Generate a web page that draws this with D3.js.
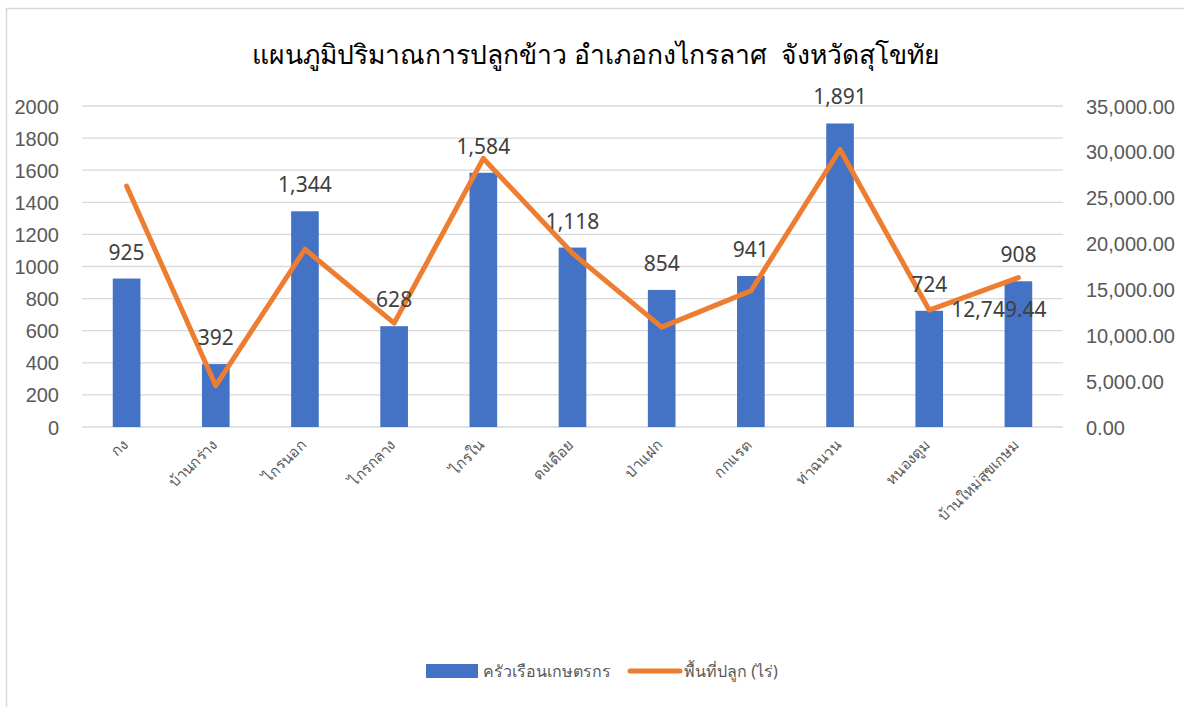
<!DOCTYPE html>
<html>
<head>
<meta charset="utf-8">
<script src="https://cdn.jsdelivr.net/npm/d3@7"></script>
<style>
  body { margin: 0; background: #fff; }
  svg { display: block; font-family: "Noto Sans", "DejaVu Sans", sans-serif; }
</style>
</head>
<body>
<div id="chart"></div>
<script>
// categories (subdistricts)
var districts = ["กง", "บ้านกร่าง", "ไกรนอก", "ไกรกลาง", "ไกรใน", "ดงเดือย", "ป่าแฝก", "กกแรต", "ท่าฉนวน", "หนองตูม", "บ้านใหม่สุขเกษม"];
// farm households (bars, left axis)
var households = [925, 392, 1344, 628, 1584, 1118, 854, 941, 1891, 724, 908];
// planted area in rai (line, right axis)
var areaRai = [26270, 4500, 19380, 11320, 29280, 18940, 10890, 14840, 30260, 12749.44, 16290];
var leftTicks = [0, 200, 400, 600, 800, 1000, 1200, 1400, 1600, 1800, 2000];
var rightTicks = [0, 5000, 10000, 15000, 20000, 25000, 30000, 35000];
var titleText = "แผนภูมิปริมาณการปลูกข้าว อำเภอกงไกรลาศ  จังหวัดสุโขทัย";
var barName = "ครัวเรือนเกษตรกร";
var lineName = "พื้นที่ปลูก (ไร่)";
var lineLabelIndex = 9; // only this point carries a label

var W = 1184, H = 707;
var plot = { left: 82, right: 1063, top: 106, bottom: 427 };

var svg = d3.select("#chart").append("svg").attr("width", W).attr("height", H);

// chart border
svg.append("rect").attr("x", 6.5).attr("y", 8.5).attr("width", W).attr("height", H)
    .attr("fill", "#fff").attr("stroke", "#d9d9d9").attr("stroke-width", 1.5);

var x = d3.scaleBand().domain(districts).range([plot.left, plot.right]);
var yL = d3.scaleLinear().domain([0, 2000]).range([plot.bottom, plot.top]);
var yR = d3.scaleLinear().domain([0, 35000]).range([plot.bottom, plot.top]);

// gridlines
svg.append("g").selectAll("line").data(leftTicks).enter().append("line")
    .attr("x1", plot.left).attr("x2", plot.right)
    .attr("y1", function (d) { return yL(d); }).attr("y2", function (d) { return yL(d); })
    .attr("stroke", "#d9d9d9").attr("stroke-width", 1.3);

// left axis
var leftAxis = svg.append("g").attr("transform", "translate(" + (plot.left - 23) + ",0)")
    .call(d3.axisLeft(yL).tickValues(leftTicks).tickSize(0).tickPadding(0).tickFormat(d3.format("d")));
leftAxis.select(".domain").remove();
leftAxis.selectAll("text").attr("fill", "#595959").style("font-size", "20px").attr("dy", "0.35em");

// right axis
var rightAxis = svg.append("g").attr("transform", "translate(" + (plot.right + 23) + ",0)")
    .call(d3.axisRight(yR).tickValues(rightTicks).tickSize(0).tickPadding(0).tickFormat(d3.format(",.2f")));
rightAxis.select(".domain").remove();
rightAxis.selectAll("text").attr("fill", "#595959").style("font-size", "20px").attr("dy", "0.35em");

// bars
var barW = x.bandwidth() * 0.31;
svg.append("g").selectAll("rect").data(households).enter().append("rect")
    .attr("x", function (d, i) { return x(districts[i]) + x.bandwidth() / 2 - barW / 2; })
    .attr("y", function (d) { return yL(d); })
    .attr("width", barW)
    .attr("height", function (d) { return yL(0) - yL(d); })
    .attr("fill", "#4472c4");

// line
var line = d3.line()
    .x(function (d, i) { return x(districts[i]) + x.bandwidth() / 2; })
    .y(function (d) { return yR(d); });
svg.append("path").datum(areaRai).attr("d", line)
    .attr("fill", "none").attr("stroke", "#ed7d31").attr("stroke-width", 5)
    .attr("stroke-linejoin", "round").attr("stroke-linecap", "round");

// bar labels
svg.append("g").selectAll("text").data(households).enter().append("text")
    .attr("x", function (d, i) { return x(districts[i]) + x.bandwidth() / 2; })
    .attr("y", function (d) { return yL(d) - 19; })
    .attr("text-anchor", "middle").attr("fill", "#404040").style("font-size", "21px")
    .text(function (d) { return d3.format(",")(d); });

// line label
svg.append("text")
    .attr("x", x(districts[lineLabelIndex]) + x.bandwidth() / 2 + 22)
    .attr("y", yR(areaRai[lineLabelIndex]))
    .attr("dy", "0.35em").attr("fill", "#404040").style("font-size", "21px")
    .text(d3.format(",.2f")(areaRai[lineLabelIndex]));

// x labels
svg.append("g").selectAll("text").data(districts).enter().append("text")
    .attr("transform", function (d) {
        return "translate(" + (x(d) + x.bandwidth() / 2 + 2) + "," + 446 + ") rotate(-45)";
    })
    .attr("text-anchor", "end").attr("fill", "#595959").style("font-size", "15px")
    .text(function (d) { return d; });

// title (keeps the double space)
svg.append("text").attr("x", 596).attr("y", 64).attr("text-anchor", "middle")
    .attr("fill", "#000").style("font-size", "26.5px").style("white-space", "pre")
    .text(titleText);

// legend
var lg = svg.append("g");
lg.append("rect").attr("x", 426).attr("y", 664).attr("width", 52).attr("height", 14).attr("fill", "#4472c4");
lg.append("text").attr("x", 483).attr("y", 671).attr("dy", "0.35em").attr("fill", "#595959")
    .style("font-size", "16px").text(barName);
lg.append("line").attr("x1", 630).attr("x2", 680).attr("y1", 671).attr("y2", 671)
    .attr("stroke", "#ed7d31").attr("stroke-width", 5).attr("stroke-linecap", "round");
lg.append("text").attr("x", 684).attr("y", 671).attr("dy", "0.35em").attr("fill", "#595959")
    .style("font-size", "16px").text(lineName);
</script>
</body>
</html>
